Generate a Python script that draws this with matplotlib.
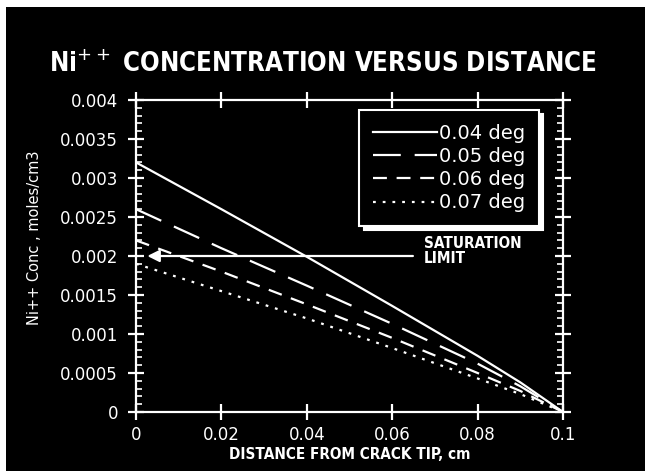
import numpy as np
import matplotlib
matplotlib.use('Agg')
import matplotlib.pyplot as plt
from matplotlib.patches import Rectangle
from matplotlib.ticker import MultipleLocator

plt.rcParams['lines.scale_dashes'] = False

distance = [0.0, 0.02, 0.04, 0.06, 0.08, 0.09, 0.1]
conc_004 = [0.0032, 0.0026, 0.00199, 0.00136, 0.00072, 0.00038, 0.0]
conc_005 = [0.0026, 0.0021, 0.00162, 0.00113, 0.00062, 0.00033, 0.0]
conc_006 = [0.0022, 0.0018, 0.00138, 0.00095, 0.00050, 0.00027, 0.0]
conc_007 = [0.0019, 0.00155, 0.0012, 0.00082, 0.00043, 0.00023, 0.0]
labels = ['0.04 deg', '0.05 deg', '0.06 deg', '0.07 deg']
saturation = 0.002
x_ticks = [0, 0.02, 0.04, 0.06, 0.08, 0.1]
x_ticklabels = ['0', '0.02', '0.04', '0.06', '0.08', '0.1']
y_ticks = [0, 0.0005, 0.001, 0.0015, 0.002, 0.0025, 0.003, 0.0035, 0.004]
y_ticklabels = ['0', '0.0005', '0.001', '0.0015', '0.002', '0.0025', '0.003', '0.0035', '0.004']

cond = dict(family='DejaVu Sans', fontstretch='condensed')

fig = plt.figure(figsize=(6.45, 4.71), dpi=100, facecolor='white')
fig.patches.append(Rectangle((6 / 645, 0), 1, 1 - 7 / 471, transform=fig.transFigure,
                             facecolor='black', edgecolor='none', zorder=-10))
ax = fig.add_axes([136 / 645, 1 - 412 / 471, 427 / 645, 312 / 471])
ax.set_facecolor('black')

lw = 1.6
styles = ['-', (0, (20, 10)), (0, (10, 7)), (0, (2, 5))]
series = [conc_004, conc_005, conc_006, conc_007]
for y, ls, lab in zip(series, styles, labels):
    ax.plot(distance, y, color='white', lw=lw, linestyle=ls, label=lab)

ax.set_xlim(0, 0.1)
ax.set_ylim(0, 0.004)
ax.set_xticks(x_ticks)
ax.set_xticklabels(x_ticklabels)
ax.set_yticks(y_ticks)
ax.set_yticklabels(y_ticklabels)
ax.yaxis.set_minor_locator(MultipleLocator(0.0001))
for s in ax.spines.values():
    s.set_color('white')
    s.set_linewidth(1.6)
ax.tick_params(which='major', direction='inout', length=12, width=1.6, color='white',
               labelcolor='white', labelsize=12, top=True, right=True, pad=4)
ax.tick_params(axis='y', which='major', pad=7)
ax.tick_params(which='minor', direction='in', length=4, width=1.2, color='white',
               left=True, right=True)

# saturation limit arrow
ax.annotate('', xy=(0.002, saturation), xytext=(0.0655, saturation),
            arrowprops=dict(arrowstyle='-|>', color='white', lw=1.6,
                            mutation_scale=18))
ax.text(0.0675, 0.00226, 'SATURATION\nLIMIT', color='white', fontsize=11,
        fontweight='bold', va='top', ha='left', linespacing=1.0, **cond)

leg = ax.legend(loc='upper right', frameon=True, fancybox=False,
                facecolor='black', edgecolor='white', framealpha=1,
                labelcolor='white', fontsize=14, handlelength=3.3, handletextpad=0.1,
                borderpad=0.7, labelspacing=0.22, borderaxespad=0,
                shadow={'color': 'white', 'alpha': 1, 'ox': 3, 'oy': -3})
leg.get_frame().set_linewidth(1.5)
leg.set_bbox_to_anchor(((539 - 136) / 427, (412 - 110) / 312), transform=ax.transAxes)

fig.text(0.5, 1 - 65 / 471, 'Ni$^{++}$ CONCENTRATION VERSUS DISTANCE', color='white',
         fontsize=18.5, fontweight='bold', ha='center', va='center', **cond)
ax.set_xlabel('DISTANCE FROM CRACK TIP, cm', color='white', fontsize=11,
              fontweight='bold', labelpad=2, **cond)
ax.set_ylabel('Ni++ Conc , moles/cm3', color='white', fontsize=10.5, labelpad=12)
ax.yaxis.set_label_coords(-94 / 427, (412 - 238) / 312)

fig.savefig('out.png', dpi=100, facecolor=fig.get_facecolor())
